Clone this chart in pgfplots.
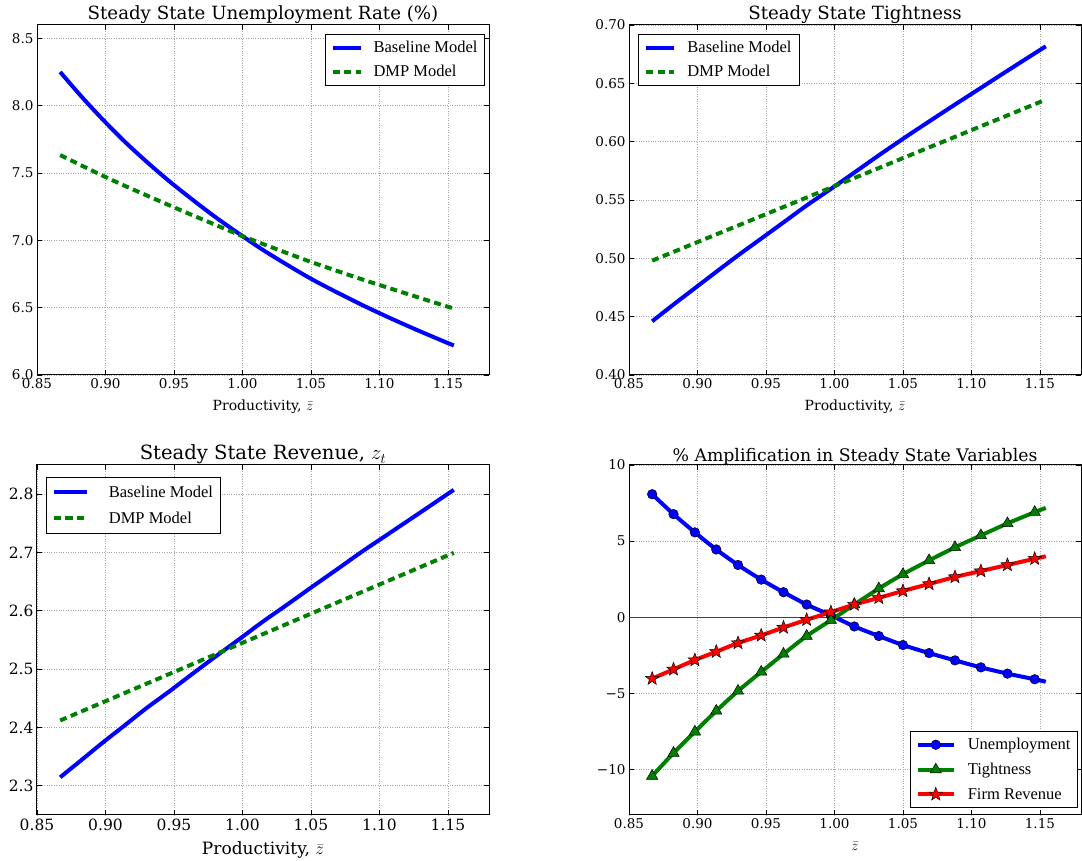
\documentclass[border=0pt]{standalone}
\usepackage{fontspec}
\setmainfont{DejaVu Serif}
\newfontfamily\legfont{Liberation Serif}
\usepackage{pgfplots}
\usepackage{pgfplotstable}
\pgfplotsset{compat=1.18}
\usetikzlibrary{plotmarks}
\definecolor{mplblue}{rgb}{0,0,1}
\definecolor{mplgreen}{rgb}{0,0.5,0}
\definecolor{mplred}{rgb}{1,0,0}

\pgfdeclareplotmark{fstar}{%
  \pgfpathmoveto{\pgfpointpolar{90}{\pgfplotmarksize}}%
  \pgfpathlineto{\pgfpointpolar{126}{0.42\pgfplotmarksize}}%
  \pgfpathlineto{\pgfpointpolar{162}{\pgfplotmarksize}}%
  \pgfpathlineto{\pgfpointpolar{198}{0.42\pgfplotmarksize}}%
  \pgfpathlineto{\pgfpointpolar{234}{\pgfplotmarksize}}%
  \pgfpathlineto{\pgfpointpolar{270}{0.42\pgfplotmarksize}}%
  \pgfpathlineto{\pgfpointpolar{306}{\pgfplotmarksize}}%
  \pgfpathlineto{\pgfpointpolar{342}{0.42\pgfplotmarksize}}%
  \pgfpathlineto{\pgfpointpolar{18}{\pgfplotmarksize}}%
  \pgfpathlineto{\pgfpointpolar{54}{0.42\pgfplotmarksize}}%
  \pgfpathclose
  \pgfusepathqfillstroke}

\pgfplotstableread{
x ub ud tb td rb rd au at ar
0.8669 8.251 7.634 0.4460 0.4980 2.3146 2.4120 8.08 -10.44 -4.04
0.8825 8.068 7.556 0.4604 0.5055 2.3443 2.4276 6.77 -8.93 -3.43
0.8981 7.897 7.480 0.4744 0.5130 2.3743 2.4432 5.57 -7.53 -2.82
0.9137 7.737 7.407 0.4884 0.5205 2.4030 2.4588 4.45 -6.16 -2.27
0.9296 7.588 7.336 0.5025 0.5281 2.4326 2.4747 3.43 -4.85 -1.70
0.9465 7.440 7.261 0.5169 0.5362 2.4617 2.4916 2.47 -3.60 -1.20
0.9628 7.308 7.190 0.5308 0.5440 2.4908 2.5079 1.64 -2.42 -0.68
0.9797 7.177 7.118 0.5453 0.5521 2.5205 2.5248 0.83 -1.24 -0.17
0.9974 7.050 7.042 0.5595 0.5606 2.5509 2.5425 0.12 -0.20 0.33
1.0145 6.932 6.975 0.5735 0.5688 2.5808 2.5596 -0.61 0.83 0.83
1.0324 6.820 6.906 0.5883 0.5774 2.6102 2.5775 -1.24 1.88 1.27
1.0500 6.715 6.840 0.6024 0.5859 2.6397 2.5951 -1.83 2.82 1.72
1.0691 6.613 6.773 0.6173 0.5951 2.6712 2.6142 -2.36 3.73 2.18
1.0880 6.517 6.708 0.6318 0.6041 2.7026 2.6331 -2.84 4.59 2.64
1.1069 6.427 6.646 0.6461 0.6132 2.7324 2.6520 -3.30 5.37 3.03
1.1263 6.339 6.583 0.6608 0.6225 2.7630 2.6714 -3.71 6.16 3.43
1.1462 6.253 6.519 0.6757 0.6321 2.7946 2.6913 -4.08 6.90 3.84
1.1543 6.219 6.494 0.6817 0.6360 2.8074 2.6994 -4.24 7.18 4.00
}\data

\pgfplotsset{
  panel/.style={
    scale only axis, width=452pt, height=350pt, anchor=south west,
    xmin=0.85, xmax=1.18, xtick={0.85,0.9,0.95,1,1.05,1.1,1.15},
    xticklabel style={/pgf/number format/.cd, fixed, fixed zerofill, precision=2},
    /pgf/number format/assume math mode=true,
    tick align=inside, major tick length=5pt,
    every tick/.style={black, line width=0.8pt},
    axis line style={black, line width=1pt},
    grid=major, grid style={dotted, gray!70, line width=0.7pt},
    ticklabel style={font=\fontsize{13.5}{15}\selectfont},
    title style={font=\fontsize{18.2}{20}\selectfont, at={(0.5,1)}, anchor=base, yshift=-0.5pt},
    xlabel style={font=\fontsize{14}{16}\selectfont, yshift=-4pt},
    legend cell align=left,
    legend style={draw=black, line width=0.8pt, fill=white,
      font=\legfont\fontsize{16.5}{18}\selectfont,
      inner xsep=5pt, inner ysep=5pt, row sep=7pt,
      /tikz/every odd column/.append style={column sep=9pt}},
    legend image code/.code={\draw[mark repeat=2,mark phase=2,##1] plot coordinates {(0pt,0pt) (14pt,0pt) (28pt,0pt)};},
  },
  base/.style={mplblue, line width=4pt, smooth, no markers},
  dmp/.style={mplgreen, line width=4pt, dash pattern=on 7pt off 4.5pt, smooth, no markers},
}

\begin{document}
\begin{tikzpicture}
\useasboundingbox (0pt,0pt) rectangle (1082pt,861pt);

% Top left
\begin{axis}[panel, at={(37pt,486pt)},
  ymin=6.0, ymax=8.6, ytick={6.0,6.5,7.0,7.5,8.0,8.5},
  yticklabel style={/pgf/number format/.cd, fixed, fixed zerofill, precision=1},
  title={Steady State Unemployment Rate (\%)},
  xlabel={Productivity, $\bar{z}$},
  legend style={at={(0.991,0.974)}, anchor=north east}]
\addplot[base] table[x=x, y=ub] {\data};
\addlegendentry{Baseline Model}
\addplot[dmp] table[x=x, y=ud] {\data};
\addlegendentry{DMP Model}
\end{axis}

% Top right
\begin{axis}[panel, at={(629pt,486pt)},
  ymin=0.40, ymax=0.70, ytick={0.40,0.45,0.50,0.55,0.60,0.65,0.70},
  yticklabel style={/pgf/number format/.cd, fixed, fixed zerofill, precision=2},
  title={Steady State Tightness},
  xlabel={Productivity, $\bar{z}$},
  legend style={at={(0.02,0.974)}, anchor=north west, inner xsep=6pt}]
\addplot[base] table[x=x, y=tb] {\data};
\addlegendentry{Baseline Model}
\addplot[dmp] table[x=x, y=td] {\data};
\addlegendentry{DMP Model}
\end{axis}

% Bottom left
\begin{axis}[panel, at={(37pt,46pt)},
  ymin=2.25, ymax=2.85, ytick={2.3,2.4,2.5,2.6,2.7,2.8},
  yticklabel style={/pgf/number format/.cd, fixed, fixed zerofill, precision=1},
  ticklabel style={font=\fontsize{15.5}{17}\selectfont},
  title style={font=\fontsize{19.6}{22}\selectfont, yshift=-0.5pt},
  xlabel style={font=\fontsize{17}{19}\selectfont},
  title={Steady State Revenue, $z_t$},
  xlabel={Productivity, $\bar{z}$},
  legend style={at={(0.021,0.967)}, anchor=north west, row sep=9pt, inner ysep=7pt,
    /tikz/every odd column/.append style={column sep=18pt}},
  legend image code/.code={\draw[mark repeat=2,mark phase=2,#1] plot coordinates {(0pt,0pt) (16pt,0pt) (33pt,0pt)};}]
\addplot[base] table[x=x, y=rb] {\data};
\addlegendentry{Baseline Model}
\addplot[dmp] table[x=x, y=rd] {\data};
\addlegendentry{DMP Model}
\end{axis}

% Bottom right
\begin{axis}[panel, at={(629pt,46pt)},
  ymin=-13, ymax=10, ytick={-10,-5,0,5,10},
  yticklabels={−10,−5,0,5,10},
  title style={font=\fontsize{17.3}{20}\selectfont, yshift=-2.5pt},
  title={\% Amplification in Steady State Variables},
  xlabel={$\bar{z}$},
  xlabel style={yshift=-3pt},
  legend style={at={(0.993,0.02)}, anchor=south east, row sep=8pt, inner ysep=5pt,
    /tikz/every odd column/.append style={column sep=10pt}},
  legend image code/.code={\draw[mark repeat=2,mark phase=2,#1] plot coordinates {(0pt,0pt) (18pt,0pt) (36pt,0pt)};}]
\addplot[black!75, line width=1pt, forget plot] coordinates {(0.85,0) (1.18,0)};
\addplot[mplblue, line width=4pt, smooth, no markers, forget plot, skip coords between index={0}{16}] table[x=x, y=au] {\data};
\addplot[mplgreen, line width=4pt, smooth, no markers, forget plot, skip coords between index={0}{16}] table[x=x, y=at] {\data};
\addplot[mplred, line width=4pt, smooth, no markers, forget plot, skip coords between index={0}{16}] table[x=x, y=ar] {\data};
\addplot[mplblue, line width=4pt, smooth, mark=*, mark size=4.8pt,
  mark options={solid, fill=mplblue, draw=black, line width=0.5pt},
  skip coords between index={17}{18}] table[x=x, y=au] {\data};
\addlegendentry{Unemployment}
\addplot[mplgreen, line width=4pt, smooth, mark=triangle*, mark size=6.5pt,
  mark options={solid, fill=mplgreen, draw=black, line width=0.5pt},
  skip coords between index={17}{18}] table[x=x, y=at] {\data};
\addlegendentry{Tightness}
\addplot[mplred, line width=4pt, smooth, mark=fstar, mark size=7pt,
  mark options={solid, fill=mplred, draw=black, line width=0.5pt},
  skip coords between index={17}{18}] table[x=x, y=ar] {\data};
\addlegendentry{Firm Revenue}
\end{axis}
\end{tikzpicture}
\end{document}
